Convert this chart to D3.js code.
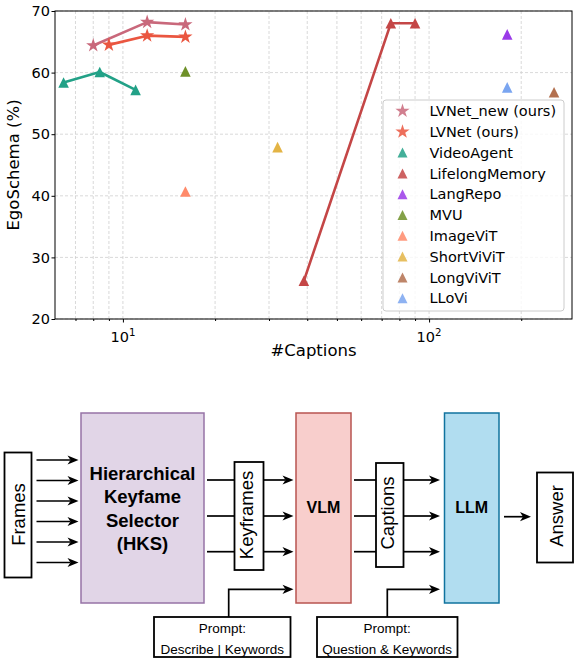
<!DOCTYPE html>
<html>
<head>
<meta charset="utf-8">
<script src="https://cdn.jsdelivr.net/npm/d3@7"></script>
<style>
  body { margin: 0; background: #fff; }
  svg { display: block; }
</style>
</head>
<body>
<script>
const W = 578, H = 658;

// Chart data

const methods = ["LVNet_new (ours)", "LVNet (ours)", "VideoAgent", "LifelongMemory", "LangRepo",
  "MVU", "ImageViT", "ShortViViT", "LongViViT", "LLoVi"];
const captions = [
  [8, 12, 16],
  [9, 12, 16],
  [6.4, 8.4, 11],
  [39, 75, 90],
  [180], [16], [16], [32], [256], [180]
];
const egoschema = [
  [64.4, 68.2, 67.8],
  [64.5, 66.0, 65.8],
  [58.4, 60.1, 57.2],
  [26.2, 68.0, 68.0],
  [66.2], [60.2], [40.7], [47.9], [56.8], [57.6]
];
const colors = ["#c9687b", "#ea5640", "#22a187", "#c44646", "#9a3ae8",
  "#6e9028", "#ff8a6a", "#e3b445", "#b3704f", "#7aa5f0"];
const shapes = ["star", "star", "tri", "tri", "tri", "tri", "tri", "tri", "tri", "tri"];
const xMajor = [10, 100];
const xMinor = [7, 8, 9, 20, 30, 40, 50, 60, 70, 80, 90, 200];
const yTicks = [20, 30, 40, 50, 60, 70];

// Diagram labels

const hksLines = ["Hierarchical", "Keyfame", "Selector", "(HKS)"];
const prompt1 = ["Prompt:", "Describe | Keywords"];
const prompt2 = ["Prompt:", "Question & Keywords"];

const svg = d3.select("body").append("svg").attr("width", W).attr("height", H);

const x = d3.scaleLog().domain([6, 293]).range([55, 572]);
const y = d3.scaleLinear().domain([20, 70]).range([319, 11]);

const font = "DejaVu Sans, sans-serif";

// Grid

const grid = svg.append("g")
  .attr("stroke", "#cfcfcf")
  .attr("stroke-width", 0.8)
  .attr("stroke-dasharray", "3,2");

grid.selectAll("line.gx")
  .data(xMajor.concat(xMinor))
  .join("line")
  .attr("x1", (d) => x(d))
  .attr("x2", (d) => x(d))
  .attr("y1", y(20))
  .attr("y2", y(70));

grid.selectAll("line.gy")
  .data(yTicks)
  .join("line")
  .attr("x1", x(6))
  .attr("x2", x(293))
  .attr("y1", (d) => y(d))
  .attr("y2", (d) => y(d));

// Marker shapes

const triUp = {
  draw(ctx, size) {
    const r = Math.sqrt(size) / 2;
    ctx.moveTo(0, -r);
    ctx.lineTo(r, r);
    ctx.lineTo(-r, r);
    ctx.closePath();
  }
};
const markerPath = (shape, big) =>
  shape === "star"
    ? d3.symbol(d3.symbolStar, 63)()
    : d3.symbol(triUp, big ? 100 : 112)();

// Lines and markers

const line = d3.line().x((d) => x(d[0])).y((d) => y(d[1]));

methods.forEach((m, i) => {
  const pts = captions[i].map((c, j) => [c, egoschema[i][j]]);
  if (pts.length > 1) {
    svg.append("path")
      .attr("d", line(pts))
      .attr("fill", "none")
      .attr("stroke", colors[i])
      .attr("stroke-width", 2.6)
      .attr("stroke-linejoin", "round");
  }
  svg.append("g")
    .selectAll("path")
    .data(pts)
    .join("path")
    .attr("transform", (d) => `translate(${x(d[0])},${y(d[1])})`)
    .attr("d", markerPath(shapes[i], false))
    .attr("fill", colors[i]);
});

// Axes

const gx = svg.append("g")
  .attr("transform", `translate(0,${y(20)})`)
  .call(d3.axisBottom(x).tickValues(xMajor).tickSize(3.5).tickSizeOuter(0).tickFormat(() => ""));
gx.select(".domain").remove();

const gxMinor = svg.append("g")
  .attr("transform", `translate(0,${y(20)})`)
  .call(d3.axisBottom(x).tickValues(xMinor).tickSize(2).tickSizeOuter(0).tickFormat(() => ""));
gxMinor.select(".domain").remove();

svg.selectAll("text.xlab")
  .data(xMajor)
  .join("text")
  .attr("x", (d) => x(d))
  .attr("y", 342)
  .attr("text-anchor", "middle")
  .attr("font-family", font)
  .attr("font-size", 14.5)
  .each(function (d) {
    const t = d3.select(this);
    t.append("tspan").text("10");
    t.append("tspan").attr("font-size", 10.2).attr("dy", -6.3).text(Math.round(Math.log10(d)));
  });

const gy = svg.append("g")
  .attr("transform", `translate(${x(6)},0)`)
  .call(d3.axisLeft(y).tickValues(yTicks).tickSize(3.5).tickPadding(1.5).tickSizeOuter(0));
gy.select(".domain").remove();
gy.selectAll("text").attr("font-family", font).attr("font-size", 14.5).attr("fill", "#000");

svg.append("rect")
  .attr("x", x(6))
  .attr("y", y(70))
  .attr("width", x(293) - x(6))
  .attr("height", y(20) - y(70))
  .attr("fill", "none")
  .attr("stroke", "#000")
  .attr("stroke-width", 1);

svg.append("text")
  .attr("x", (x(6) + x(293)) / 2)
  .attr("y", 356)
  .attr("text-anchor", "middle")
  .attr("font-family", font)
  .attr("font-size", 16.5)
  .text("#Captions");

svg.append("text")
  .attr("transform", `translate(18.5,${(y(20) + y(70)) / 2}) rotate(-90)`)
  .attr("text-anchor", "middle")
  .attr("font-family", font)
  .attr("font-size", 16.5)
  .text("EgoSchema (%)");

// Legend

const legend = svg.append("g").attr("transform", "translate(383,100)");
legend.append("rect")
  .attr("width", 181)
  .attr("height", 211)
  .attr("rx", 3)
  .attr("fill", "#fff")
  .attr("fill-opacity", 0.8)
  .attr("stroke", "#cccccc")
  .attr("stroke-width", 1);

const rows = legend.selectAll("g.row")
  .data(methods)
  .join("g")
  .attr("transform", (d, i) => `translate(0,${11 + i * 20.8})`);

rows.append("path")
  .attr("transform", "translate(19.5,0)")
  .attr("d", (d, i) => markerPath(shapes[i], true))
  .attr("fill", (d, i) => colors[i])
  .attr("fill-opacity", 0.85);

rows.append("text")
  .attr("x", 46.5)
  .attr("y", 5.2)
  .attr("font-family", font)
  .attr("font-size", 14.5)
  .text((d) => d);

// Diagram

const dfont = "Liberation Sans, Arial, Helvetica, sans-serif";
const dg = svg.append("g");

function box(bx, by, bw, bh, fill, stroke, sw) {
  dg.append("rect")
    .attr("x", bx).attr("y", by).attr("width", bw).attr("height", bh)
    .attr("fill", fill).attr("stroke", stroke).attr("stroke-width", sw);
}

function vtext(tx, ty, label) {
  dg.append("text")
    .attr("transform", `translate(${tx},${ty}) rotate(-90)`)
    .attr("text-anchor", "middle")
    .attr("font-family", dfont)
    .attr("font-size", 18.5)
    .text(label);
}

function seg(pts) {
  dg.append("path")
    .attr("d", d3.line()(pts))
    .attr("fill", "none")
    .attr("stroke", "#000")
    .attr("stroke-width", 1.7);
}

// polyline ending with an arrow pointing right
function arrow(pts) {
  const last = pts[pts.length - 1];
  const body = pts.slice(0, -1).concat([[last[0] - 8, last[1]]]);
  seg(body);
  dg.append("path")
    .attr("d", `M${last[0]},${last[1]}L${last[0] - 11},${last[1] - 4.6}L${last[0] - 8},${last[1]}L${last[0] - 11},${last[1] + 4.6}Z`)
    .attr("fill", "#000");
}

// boxes
box(4.5, 452.5, 27, 125, "#fff", "#000", 1.8);
box(81, 413, 123, 190, "#e1d5e7", "#9673a6", 1.5);
box(234.5, 462, 29, 108, "#fff", "#000", 1.8);
box(296, 413, 55, 190, "#f8cecc", "#b85450", 1.5);
box(376, 463, 27.5, 104, "#fff", "#000", 1.8);
box(444.5, 413, 54.5, 190, "#b1ddf0", "#10739e", 1.5);
box(537, 472.5, 36, 90, "#fff", "#000", 1.8);
box(154, 617, 136.5, 40, "#fff", "#000", 1.8);
box(317, 617, 140.5, 40, "#fff", "#000", 1.8);

vtext(25, 514.5, "Frames");
vtext(253, 515, "Keyframes");
vtext(393.5, 513, "Captions");
vtext(563.3, 516, "Answer");

dg.selectAll("text.hks")
  .data(hksLines)
  .join("text")
  .attr("x", 142.5)
  .attr("y", (d, i) => 480 + i * 23.3)
  .attr("text-anchor", "middle")
  .attr("font-family", dfont)
  .attr("font-weight", "bold")
  .attr("font-size", 18.5)
  .text((d) => d);

[["VLM", 323.5], ["LLM", 471.7]].forEach(([t, cx]) => {
  dg.append("text")
    .attr("x", cx).attr("y", 513.3)
    .attr("text-anchor", "middle")
    .attr("font-family", dfont)
    .attr("font-weight", "bold")
    .attr("font-size", 16)
    .text(t);
});

[[prompt1, 222.3], [prompt2, 387.2]].forEach(([lines, cx]) => {
  dg.selectAll(null)
    .data(lines)
    .join("text")
    .attr("x", cx)
    .attr("y", (d, i) => 632.5 + i * 21)
    .attr("text-anchor", "middle")
    .attr("font-family", dfont)
    .attr("font-size", 13.5)
    .text((d) => d);
});

// frames -> HKS
d3.range(6).forEach((i) => arrow([[36.5, 460 + i * 20.5], [78.5, 460 + i * 20.5]]));

// HKS -> keyframes -> VLM, VLM -> captions -> LLM
[480, 516, 551.7].forEach((ly) => {
  seg([[207, ly], [234.5, ly]]);
  arrow([[263.5, ly], [293.5, ly]]);
  seg([[354, ly], [376, ly]]);
  arrow([[403.5, ly], [440, ly]]);
});

// prompts
arrow([[228.7, 617], [228.7, 589.3], [293.5, 589.3]]);
arrow([[387.3, 617], [387.3, 589.3], [440, 589.3]]);

// LLM -> answer
arrow([[504, 516.7], [531, 516.7]]);
</script>
</body>
</html>
